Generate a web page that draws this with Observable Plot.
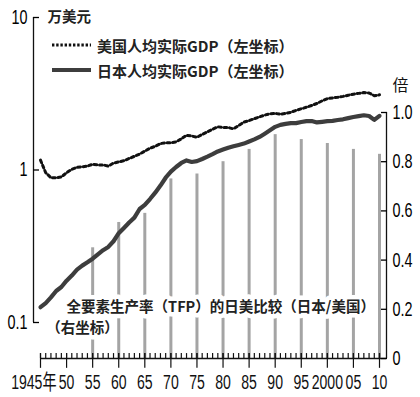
<!DOCTYPE html>
<html><head><meta charset="utf-8">
<script src="https://cdn.jsdelivr.net/npm/d3@7"></script>
<script src="https://cdn.jsdelivr.net/npm/@observablehq/plot@0.6"></script>
<style>
body{margin:0;background:#fff;}
#chart{position:relative;width:420px;height:397px;overflow:hidden;background:#fff;}
#chart > svg{position:absolute;left:0;top:0;}
.lg{position:absolute;left:52px;height:20px;display:flex;align-items:center;font-family:'Noto Sans CJK SC',sans-serif;font-weight:700;font-size:15px;color:#222;white-space:nowrap;}
.lg svg{margin-right:6px;}
</style></head><body><div id="chart"></div>
<script>
// ---- data ----
const years = [1945,1946,1947,1948,1949,1950,1951,1952,1953,1954,1955,1956,1957,1958,1959,1960,1961,1962,1963,1964,1965,1966,1967,1968,1969,1970,1971,1972,1973,1974,1975,1976,1977,1978,1979,1980,1981,1982,1983,1984,1985,1986,1987,1988,1989,1990,1991,1992,1993,1994,1995,1996,1997,1998,1999,2000,2001,2002,2003,2004,2005,2006,2007,2008,2009,2010];
const usGdp = [1.16,0.96,0.89,0.89,0.90,0.96,1.01,1.04,1.05,1.06,1.09,1.08,1.08,1.06,1.11,1.13,1.15,1.19,1.23,1.27,1.33,1.39,1.43,1.49,1.51,1.51,1.53,1.60,1.69,1.67,1.64,1.71,1.78,1.85,1.92,1.90,1.90,1.86,1.96,2.06,2.11,2.17,2.23,2.29,2.34,2.35,2.32,2.35,2.39,2.46,2.52,2.58,2.65,2.73,2.84,2.94,2.97,3.00,3.04,3.09,3.14,3.18,3.22,3.20,3.07,3.11];
const jpGdp = [0.126,0.134,0.146,0.161,0.171,0.188,0.203,0.222,0.236,0.248,0.262,0.280,0.298,0.313,0.341,0.385,0.417,0.453,0.487,0.555,0.59,0.645,0.71,0.79,0.89,0.975,1.046,1.112,1.155,1.129,1.143,1.181,1.223,1.27,1.323,1.362,1.40,1.432,1.46,1.49,1.538,1.587,1.648,1.73,1.82,1.918,1.977,2.007,2.028,2.028,2.063,2.09,2.094,2.05,2.07,2.09,2.10,2.126,2.15,2.19,2.225,2.255,2.286,2.26,2.13,2.265];
const tfpYears = [1955,1960,1965,1970,1975,1980,1985,1990,1995,2000,2005,2010];
const tfpRatio = [0.45,0.553,0.59,0.73,0.75,0.80,0.85,0.91,0.89,0.874,0.85,0.83];
const leftTicks = [0.1,1,10];
const leftTickLabels = ["0.1","1","10"];
const rightTicks = [0,0.2,0.4,0.6,0.8,1.0];
const rightTickLabels = ["0","0.2","0.4","0.6","0.8","1.0"];
const xLabelYears = [1945,1950,1955,1960,1965,1970,1975,1980,1985,1990,1995,2000,2005,2010];
const xTickLabels = ["1945年","50","55","60","65","70","75","80","85","90","95","2000","05","10"];
const leftUnit = "万美元";
const rightUnit = "倍";
const seriesNames = ["美国人均实际GDP（左坐标）","日本人均实际GDP（左坐标）"];
const tfpLabel1 = "全要素生产率（TFP）的日美比较（日本/美国）";
const tfpLabel2 = "（右坐标）";

const NUM = "'Liberation Sans',Arial,sans-serif";
const NUMCJK = "'Liberation Sans','Noto Sans CJK SC',sans-serif";
const CJK = "'Noto Sans CJK SC',sans-serif";
const LINE_GRAY = "#3d3d3d";

const usRows = years.map((y,i)=>({year:y, v:usGdp[i]}));
const jpRows = years.map((y,i)=>({year:y, v:jpGdp[i]}));
const tfpRows = tfpYears.map((y,i)=>({year:y, v:tfpRatio[i]}));

// ---- bottom layer: TFP bars, right axis, x axis ----
const bottom = Plot.plot({
  width: 420, height: 397,
  marginTop: 112, marginBottom: 39, marginLeft: 40, marginRight: 34,
  style: {background: "transparent", overflow: "visible"},
  x: {domain: [1945, 2010], range: [40, 379], axis: null},
  y: {domain: [0, 1], axis: null},
  marks: [
    Plot.ruleX(tfpRows, {x: "year", y1: 0, y2: "v", stroke: "#a4a4a4", strokeWidth: 3}),
    Plot.text([tfpLabel1], {x: 1950, y: 0.206, text: d => d, textAnchor: "start", lineAnchor: "middle",
      fontFamily: CJK, fontWeight: 700, fontSize: 14.5, fill: "#222", stroke: "white", strokeWidth: 9}),
    Plot.text([tfpLabel2], {x: 1946.1, y: 0.122, text: d => d, textAnchor: "start", lineAnchor: "middle",
      fontFamily: CJK, fontWeight: 700, fontSize: 14.5, fill: "#222", stroke: "white", strokeWidth: 9}),
    Plot.ruleY([0], {stroke: "#111", strokeWidth: 1.3}),
    Plot.ruleX([2010], {dx: 7, stroke: "#111", strokeWidth: 1.3}),
    Plot.ruleX(years, {x: d => d, y1: 0, y2: 0.02, stroke: "#111", strokeWidth: 1.2}),
    Plot.ruleX(xLabelYears, {x: d => d, y1: -0.04, y2: 0.02, stroke: "#111", strokeWidth: 1.2}),
    Plot.text(xLabelYears, {x: d => d, text: (d, i) => xTickLabels[i], filter: (d, i) => i > 0,
      frameAnchor: "bottom", lineAnchor: "middle", textAnchor: "middle", dy: 24, fontFamily: NUM, fontSize: 21, fill: "#111"}),
    Plot.text(xLabelYears, {x: d => d, text: (d, i) => xTickLabels[i], filter: (d, i) => i === 0,
      frameAnchor: "bottom", lineAnchor: "middle", textAnchor: "end", dx: 16, dy: 24, fontFamily: NUMCJK, fontSize: 21, fill: "#111"}),
    Plot.axisY({anchor: "right", label: null, ticks: rightTicks, tickFormat: d => rightTickLabels[rightTicks.indexOf(d)],
      tickSize: -6, tickPadding: 12, fontFamily: NUM, fontSize: 20, strokeWidth: 1.3}),
    Plot.text([rightUnit], {frameAnchor: "top-right", textAnchor: "middle", lineAnchor: "middle", dx: 14, dy: -27,
      fontFamily: CJK, fontSize: 16, fill: "#111"})
  ]
});

// ---- top layer: GDP lines, left log axis ----
const topLayer = Plot.plot({
  width: 420, height: 397,
  marginTop: 17, marginBottom: 75, marginLeft: 33, marginRight: 34,
  style: {background: "transparent", overflow: "visible"},
  x: {domain: [1945, 2010], range: [40, 379], axis: null},
  y: {type: "log", domain: [0.1, 10], axis: null},
  marks: [
    Plot.ruleX([1945], {dx: -7, stroke: "#111", strokeWidth: 1.3}),
    Plot.axisY({anchor: "left", label: null, ticks: leftTicks, tickFormat: d => leftTickLabels[leftTicks.indexOf(d)],
      tickSize: -6, tickPadding: 12, fontFamily: NUM, fontSize: 20, strokeWidth: 1.3}),
    Plot.text([leftUnit], {frameAnchor: "top-left", textAnchor: "start", lineAnchor: "middle", dx: 14,
      fontFamily: CJK, fontWeight: 700, fontSize: 14.5, fill: "#222"}),
    Plot.line(jpRows, {x: "year", y: "v", stroke: LINE_GRAY, strokeWidth: 4.2, curve: "linear"}),
    Plot.line(usRows, {x: "year", y: "v", stroke: "#111", strokeWidth: 3, strokeDasharray: "2.8 2.8"})
  ]
});

const chart = document.getElementById("chart");
chart.append(bottom, topLayer);

// condense numeric labels horizontally about their anchor (reference uses a very narrow face)
function condense(svg, labels, k) {
  svg.querySelectorAll("text").forEach(t => {
    if (!labels.includes(t.textContent)) return;
    const b = t.getBBox();
    const ta = getComputedStyle(t).textAnchor;
    const ax = ta === "end" ? b.x + b.width : ta === "middle" ? b.x + b.width / 2 : b.x;
    const old = t.getAttribute("transform") || "";
    t.setAttribute("transform", `${old} translate(${ax},0) scale(${k},1) translate(${-ax},0)`.trim());
  });
}
condense(bottom, xTickLabels, 0.67);
condense(bottom, rightTickLabels, 0.72);
condense(topLayer, leftTickLabels, 0.72);

// legend
const lg = [
  {top: 35, svg: '<svg width="39" height="6"><line x1="0" y1="3" x2="39" y2="3" stroke="#111" stroke-width="2.8" stroke-dasharray="2.4 1.8"/></svg>'},
  {top: 60, svg: '<svg width="39" height="6"><line x1="0" y1="3" x2="39" y2="3" stroke="' + LINE_GRAY + '" stroke-width="4.2"/></svg>'}
];
lg.forEach((d, i) => {
  const div = document.createElement("div");
  div.className = "lg";
  div.style.top = d.top + "px";
  div.innerHTML = d.svg + "<span>" + seriesNames[i] + "</span>";
  chart.append(div);
});
</script></body></html>
